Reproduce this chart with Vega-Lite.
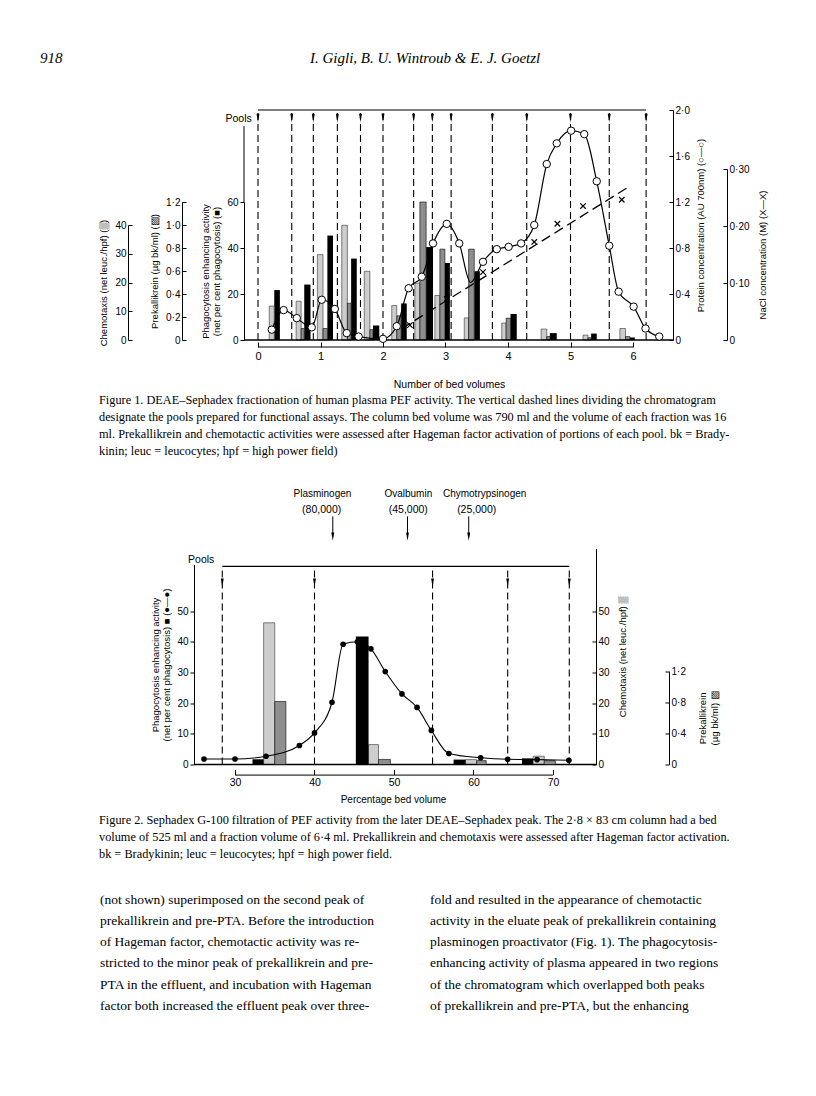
{
  "$schema": "https://vega.github.io/schema/vega-lite/v6.json",
  "background": "white",
  "padding": {"left": 40, "top": 50, "right": 5, "bottom": 5},
  "autosize": {"type": "pad"},
  "title": {
    "text": "918\u00a0\u00a0\u00a0\u00a0\u00a0\u00a0\u00a0\u00a0\u00a0\u00a0\u00a0\u00a0\u00a0\u00a0\u00a0\u00a0\u00a0\u00a0\u00a0\u00a0\u00a0\u00a0\u00a0\u00a0\u00a0\u00a0\u00a0\u00a0\u00a0\u00a0\u00a0\u00a0\u00a0\u00a0\u00a0\u00a0\u00a0\u00a0\u00a0\u00a0\u00a0\u00a0\u00a0\u00a0\u00a0\u00a0\u00a0\u00a0\u00a0\u00a0\u00a0\u00a0\u00a0\u00a0\u00a0\u00a0\u00a0\u00a0\u00a0\u00a0\u00a0\u00a0\u00a0\u00a0\u00a0\u00a0I. Gigli, B. U. Wintroub & E. J. Goetzl",
    "anchor": "start",
    "frame": "group",
    "dx": -194,
    "offset": 39.5,
    "font": "Liberation Serif",
    "fontSize": 15,
    "fontWeight": "normal",
    "fontStyle": "italic",
    "color": "black"
  },
  "datasets": {
    "f1_phago": [
      {"x": 0.26, "xe": 0.35, "v": 21.7}, {"x": 0.74, "xe": 0.84, "v": 24.1}, {"x": 1.11, "xe": 1.2, "v": 45.4},
      {"x": 1.49, "xe": 1.58, "v": 35.4}, {"x": 1.84, "xe": 1.94, "v": 6.3}, {"x": 2.29, "xe": 2.38, "v": 15.9},
      {"x": 2.69, "xe": 2.8, "v": 40.4}, {"x": 2.99, "xe": 3.07, "v": 33.5}, {"x": 3.46, "xe": 3.55, "v": 29.9},
      {"x": 4.04, "xe": 4.14, "v": 11.3}, {"x": 4.67, "xe": 4.78, "v": 3.0}, {"x": 5.33, "xe": 5.42, "v": 2.8},
      {"x": 5.95, "xe": 6.03, "v": 1.1}
    ],
    "f1_chem": [
      {"x": 0.18, "xe": 0.26, "v": 11.8}, {"x": 0.61, "xe": 0.69, "v": 13.5}, {"x": 0.95, "xe": 1.04, "v": 29.7},
      {"x": 1.34, "xe": 1.43, "v": 39.9}, {"x": 1.7, "xe": 1.79, "v": 23.9}, {"x": 2.14, "xe": 2.22, "v": 12.0},
      {"x": 2.51, "xe": 2.59, "v": 19.8}, {"x": 2.83, "xe": 2.91, "v": 15.5}, {"x": 3.3, "xe": 3.37, "v": 7.7},
      {"x": 3.9, "xe": 3.97, "v": 5.9}, {"x": 4.53, "xe": 4.62, "v": 3.8}, {"x": 5.2, "xe": 5.28, "v": 1.7},
      {"x": 5.79, "xe": 5.88, "v": 4.0}
    ],
    "f1_prek": [
      {"x": 0.69, "xe": 0.74, "v": 0.1}, {"x": 1.04, "xe": 1.11, "v": 0.1}, {"x": 1.43, "xe": 1.49, "v": 0.32},
      {"x": 1.79, "xe": 1.84, "v": 0.09}, {"x": 2.22, "xe": 2.29, "v": 0.21}, {"x": 2.59, "xe": 2.69, "v": 1.2},
      {"x": 2.91, "xe": 2.99, "v": 0.79}, {"x": 3.37, "xe": 3.46, "v": 0.79}, {"x": 3.97, "xe": 4.04, "v": 0.19},
      {"x": 4.62, "xe": 4.67, "v": 0.03}, {"x": 5.28, "xe": 5.33, "v": 0.02}, {"x": 5.88, "xe": 5.95, "v": 0.03}
    ],
    "f1_protein": [
      {"x": 0.22, "p": 0.09}, {"x": 0.41, "p": 0.26}, {"x": 0.62, "p": 0.19}, {"x": 0.86, "p": 0.11},
      {"x": 1.02, "p": 0.35}, {"x": 1.23, "p": 0.27}, {"x": 1.42, "p": 0.06}, {"x": 1.61, "p": 0.03},
      {"x": 2.0, "p": 0.01}, {"x": 2.22, "p": 0.12}, {"x": 2.41, "p": 0.45}, {"x": 2.62, "p": 0.55},
      {"x": 2.8, "p": 0.84}, {"x": 3.02, "p": 1.01}, {"x": 3.22, "p": 0.84}, {"x": 3.4, "p": 0.5, "hidden": true},
      {"x": 3.6, "p": 0.68}, {"x": 3.82, "p": 0.79}, {"x": 4.01, "p": 0.81}, {"x": 4.21, "p": 0.84},
      {"x": 4.42, "p": 1.0}, {"x": 4.62, "p": 1.53}, {"x": 4.78, "p": 1.71}, {"x": 5.01, "p": 1.82},
      {"x": 5.22, "p": 1.79}, {"x": 5.42, "p": 1.38}, {"x": 5.62, "p": 0.82}, {"x": 5.77, "p": 0.42},
      {"x": 6.01, "p": 0.29}, {"x": 6.2, "p": 0.1}, {"x": 6.42, "p": 0.03}
    ],
    "f1_nacl": [
      {"x": 2.43, "c": 0.026}, {"x": 3.02, "c": 0.072}, {"x": 3.6, "c": 0.119}, {"x": 4.42, "c": 0.172},
      {"x": 4.79, "c": 0.204}, {"x": 5.2, "c": 0.235}, {"x": 5.82, "c": 0.246}
    ],
    "f1_nacl_line": [{"x": 2.3, "c": 0.02}, {"x": 5.92, "c": 0.268}],
    "f1_pools": [
      {"x": 0}, {"x": 0.54}, {"x": 0.885}, {"x": 1.27}, {"x": 1.64}, {"x": 2.0}, {"x": 2.49},
      {"x": 2.79}, {"x": 3.09}, {"x": 3.75}, {"x": 4.3}, {"x": 5.0}, {"x": 5.62}, {"x": 6.21}
    ],
    "f2_phago": [
      {"x": 32.2, "xe": 33.6, "v": 1.7}, {"x": 45.2, "xe": 46.8, "v": 41.7},
      {"x": 57.5, "xe": 59.0, "v": 1.6}, {"x": 66.1, "xe": 67.5, "v": 2.0}
    ],
    "f2_chem": [
      {"x": 33.6, "xe": 35.0, "v": 46.2}, {"x": 46.8, "xe": 48.05, "v": 6.5},
      {"x": 59.0, "xe": 60.4, "v": 1.6}, {"x": 67.5, "xe": 68.9, "v": 2.7}
    ],
    "f2_prek": [
      {"x": 35.0, "xe": 36.4, "v": 0.81}, {"x": 48.05, "xe": 49.55, "v": 0.065},
      {"x": 60.4, "xe": 61.6, "v": 0.05}, {"x": 68.9, "xe": 70.3, "v": 0.05}
    ],
    "f2_curve": [
      {"x": 26.1, "v": 1.8}, {"x": 30.0, "v": 1.8}, {"x": 33.9, "v": 2.7}, {"x": 38.1, "v": 6.2},
      {"x": 40.0, "v": 10.3}, {"x": 42.2, "v": 20.3}, {"x": 43.6, "v": 39.2}, {"x": 45.4, "v": 40.0},
      {"x": 47.1, "v": 37.7}, {"x": 48.9, "v": 30.3}, {"x": 51.0, "v": 23.0}, {"x": 52.9, "v": 18.6},
      {"x": 54.7, "v": 11.1}, {"x": 56.9, "v": 3.6}, {"x": 60.9, "v": 2.2}, {"x": 64.3, "v": 1.7},
      {"x": 68.0, "v": 1.6}, {"x": 72.0, "v": 1.4}
    ],
    "f2_pools": [{"x": 28.4}, {"x": 40.0}, {"x": 54.85}, {"x": 64.3}, {"x": 72.05}],
    "f2_names": [{"x": 41.0, "t": "Plasminogen"}, {"x": 51.8, "t": "Ovalbumin"}, {"x": 61.4, "t": "Chymotrypsinogen"}],
    "f2_mw": [{"x": 40.9, "t": "(80,000)"}, {"x": 51.8, "t": "(45,000)"}, {"x": 60.4, "t": "(25,000)"}],
    "f2_arrows": [{"x": 42.3}, {"x": 51.7}, {"x": 59.4}],
    "body": [
      {"col": 0, "line": 0, "text": "(not shown) superimposed on the second peak of"},
      {"col": 0, "line": 1, "text": "prekallikrein and pre-PTA. Before the introduction"},
      {"col": 0, "line": 2, "text": "of Hageman factor, chemotactic activity was re-"},
      {"col": 0, "line": 3, "text": "stricted to the minor peak of prekallikrein and pre-"},
      {"col": 0, "line": 4, "text": "PTA in the effluent, and incubation with Hageman"},
      {"col": 0, "line": 5, "text": "factor both increased the effluent peak over three-"},
      {"col": 1, "line": 0, "text": "fold and resulted in the appearance of chemotactic"},
      {"col": 1, "line": 1, "text": "activity in the eluate peak of prekallikrein containing"},
      {"col": 1, "line": 2, "text": "plasminogen proactivator (Fig. 1). The phagocytosis-"},
      {"col": 1, "line": 3, "text": "enhancing activity of plasma appeared in two regions"},
      {"col": 1, "line": 4, "text": "of the chromatogram which overlapped both peaks"},
      {"col": 1, "line": 5, "text": "of prekallikrein and pre-PTA, but the enhancing"}
    ]
  },
  "align": "none",
  "bounds": "full",
  "spacing": 31.5,
  "vconcat": [
    {
      "width": 439,
      "height": 230,
      "title": {
        "text": [
          "Figure 1. DEAE–Sephadex fractionation of human plasma PEF activity. The vertical dashed lines dividing the chromatogram",
          "designate the pools prepared for functional assays. The column bed volume was 790 ml and the volume of each fraction was 16",
          "ml. Prekallikrein and chemotactic activities were assessed after Hageman factor activation of portions of each pool. bk = Brady-",
          "kinin; leuc = leucocytes; hpf = high power field)"
        ],
        "orient": "bottom", "anchor": "start", "frame": "group", "dx": -135, "offset": 4,
        "font": "Liberation Serif", "fontSize": 12.3, "fontWeight": "normal", "lineHeight": 17, "color": "black"
      },
      "encoding": {
        "x": {
          "field": "x", "type": "quantitative",
          "scale": {"domain": [-0.384, 6.64], "nice": false, "zero": false},
          "axis": {"orient": "bottom", "offset": 2, "values": [0, 1, 2, 3, 4, 5, 6], "format": "d", "domain": false,
                   "tickSize": 5, "labelPadding": 3, "labelFontSize": 11, "title": "Number of bed volumes",
                   "titlePadding": 18, "titleFontSize": 10.5, "titleX": 215}
        }
      },
      "layer": [
        {
          "layer": [
            {"data": {"name": "f1_phago"}, "mark": {"type": "bar", "fill": "black"},
             "encoding": {"x2": {"field": "xe"}, "y2": {"datum": 0},
               "y": {"field": "v", "type": "quantitative", "stack": null,
                     "scale": {"domain": [0, 60], "range": [230, 92], "nice": false, "zero": false},
                     "axis": {"orient": "left", "offset": -10, "values": [0, 10, 20, 30, 40, 50, 60], "format": "d",
                              "title": ["Phagocytosis enhancing activity", "(net per cent phagocytosis) (■)"], "titlePadding": 5}}}},
            {"data": {"values": [{"x": -0.224}]}, "mark": {"type": "rule", "color": "black"},
             "encoding": {"y": {"datum": 60}, "y2": {"datum": 93}}}
          ]
        },
        {
          "layer": [
            {"data": {"name": "f1_chem"}, "mark": {"type": "bar", "fill": "#cdcdcd", "stroke": "#333333", "strokeWidth": 0.6},
             "encoding": {"x2": {"field": "xe"}, "y2": {"datum": 0},
               "y": {"field": "v", "type": "quantitative", "stack": null,
                     "scale": {"domain": [0, 40], "range": [230, 115], "nice": false, "zero": false},
                     "axis": {"orient": "left", "offset": 106, "values": [0, 10, 20, 30, 40], "format": "d",
                              "tickSize": -4, "labelPadding": 6,
                              "title": "Chemotaxis (net leuc./hpf) (▒)", "titlePadding": 6}}}}
          ]
        },
        {
          "layer": [
            {"data": {"name": "f1_prek"}, "mark": {"type": "bar", "fill": "#8e8e8e", "stroke": "black", "strokeWidth": 0.6},
             "encoding": {"x2": {"field": "xe"}, "y2": {"datum": 0},
               "y": {"field": "v", "type": "quantitative", "stack": null,
                     "scale": {"domain": [0, 1.2], "range": [230, 92], "nice": false, "zero": false},
                     "axis": {"orient": "left", "offset": 52, "values": [0, 0.2, 0.4, 0.6, 0.8, 1, 1.2],
                              "labelExpr": "datum.value == 0 ? '0' : replace(format(datum.value, '.1f'), '.', '·')",
                              "tickSize": -4, "labelPadding": 6,
                              "title": "Prekallikrein (µg bk/ml) (▨)", "titlePadding": 6}}}}
          ]
        },
        {
          "layer": [
            {"data": {"name": "f1_protein"}, "mark": {"type": "line", "interpolate": "monotone", "color": "black", "strokeWidth": 1.2},
             "encoding": {"y": {"field": "p", "type": "quantitative",
                     "scale": {"domain": [0, 2], "range": [230, 0], "nice": false, "zero": false},
                     "axis": {"orient": "right", "offset": 0, "values": [0, 0.2, 0.4, 0.6, 0.8, 1, 1.2, 1.4, 1.6, 1.8, 2],
                              "labelExpr": "datum.value == 0 ? '0' : (round(datum.value * 10) % 4 == 0 ? replace(format(datum.value, '.1f'), '.', '·') : '')",
                              "tickSize": -4, "labelPadding": 6,
                              "title": "Protein concentration (AU 700nm) (○—○)", "titleAngle": 270, "titleBaseline": "top", "titlePadding": 6}}}},
            {"data": {"name": "f1_pools"}, "mark": {"type": "rule", "strokeDash": [7, 4], "strokeWidth": 1.1, "color": "black"},
             "encoding": {"y": {"datum": 0}, "y2": {"datum": 2.0}}},
            {"data": {"values": [{"x": 0, "xe": 6.21}]}, "mark": {"type": "rule", "color": "black", "strokeWidth": 1.1},
             "encoding": {"x2": {"field": "xe"}, "y": {"datum": 2.0}}},
            {"data": {"name": "f1_pools"}, "mark": {"type": "point", "shape": "M-0.35,-1L0.35,-1L0,1Z", "filled": true, "color": "black", "size": 70, "opacity": 1},
             "encoding": {"y": {"datum": 1.93}}},
            {"data": {"values": [{"x": -0.1, "t": "Pools"}]}, "mark": {"type": "text", "align": "right", "baseline": "middle", "fontSize": 10.5},
             "encoding": {"y": {"datum": 1.92}, "text": {"field": "t"}}},
            {"data": {"values": [{"x": -0.224, "xe": 6.64}]}, "mark": {"type": "rule", "color": "black", "strokeWidth": 1.6},
             "encoding": {"x2": {"field": "xe"}, "y": {"datum": 0}}},
            {"data": {"values": [{"x": 0, "xe": 6}]}, "mark": {"type": "rule", "color": "black", "strokeWidth": 1},
             "encoding": {"x2": {"field": "xe"}, "y": {"datum": -0.061}}},
            {"data": {"name": "f1_protein"}, "transform": [{"filter": "datum.hidden != true"}],
             "mark": {"type": "point", "shape": "circle", "filled": true, "fill": "white", "stroke": "black", "strokeWidth": 1, "size": 55, "opacity": 1},
             "encoding": {"y": {"field": "p", "type": "quantitative"}}}
          ]
        },
        {
          "layer": [
            {"data": {"name": "f1_nacl_line"}, "mark": {"type": "line", "strokeDash": [10, 5], "color": "black", "strokeWidth": 1.3},
             "encoding": {"y": {"field": "c", "type": "quantitative",
                     "scale": {"domain": [0, 0.3], "range": [230, 59], "nice": false, "zero": false},
                     "axis": {"orient": "right", "offset": 54, "values": [0, 0.1, 0.2, 0.3],
                              "labelExpr": "datum.value == 0 ? '0' : replace(format(datum.value, '.2f'), '.', '·')",
                              "tickSize": -4, "labelPadding": 6,
                              "title": "NaCl concentration (M) (X—X)", "titleAngle": 270, "titleBaseline": "top", "titlePadding": 8}}}},
            {"data": {"name": "f1_nacl"}, "mark": {"type": "point", "shape": "M-1,-1L1,1M1,-1L-1,1", "filled": false, "stroke": "black", "strokeWidth": 1.2, "size": 30, "opacity": 1},
             "encoding": {"y": {"field": "c", "type": "quantitative"}}}
          ]
        }
      ],
      "resolve": {"scale": {"y": "independent"}, "axis": {"y": "independent"}}
    },
    {
      "width": 362,
      "height": 216,
      "title": {
        "text": [
          "Figure 2. Sephadex G-100 filtration of PEF activity from the later DEAE–Sephadex peak. The 2·8 × 83 cm column had a bed",
          "volume of 525 ml and a fraction volume of 6·4 ml. Prekallikrein and chemotaxis were assessed after Hageman factor activation.",
          "bk = Bradykinin; leuc = leucocytes; hpf = high power field."
        ],
        "orient": "bottom", "anchor": "start", "frame": "group", "dx": -135, "offset": 10,
        "font": "Liberation Serif", "fontSize": 12.3, "fontWeight": "normal", "lineHeight": 17, "color": "black"
      },
      "encoding": {
        "x": {
          "field": "x", "type": "quantitative",
          "scale": {"domain": [29.874, 75.41], "nice": false, "zero": false},
          "axis": {"orient": "bottom", "offset": 5, "values": [30, 40, 50, 60, 70], "format": "d", "domain": false,
                   "tickSize": 5, "labelPadding": 3, "labelFontSize": 10.5, "title": "Percentage bed volume",
                   "titlePadding": 6, "titleFontSize": 10, "titleX": 159}
        }
      },
      "layer": [
        {
          "layer": [
            {"data": {"name": "f2_chem"}, "mark": {"type": "bar", "fill": "#cdcdcd", "stroke": "#333333", "strokeWidth": 0.6},
             "encoding": {"x2": {"field": "xe"}, "y2": {"datum": 0},
               "y": {"field": "v", "type": "quantitative", "stack": null,
                     "scale": {"domain": [0, 70.43], "range": [216, 0], "nice": false, "zero": false},
                     "axis": {"orient": "right", "offset": 0, "values": [0, 10, 20, 30, 40, 50], "format": "d",
                              "tickSize": -4, "labelPadding": 6,
                              "title": "Chemotaxis (net leuc./hpf) ▒", "titleAngle": 270, "titleBaseline": "top", "titlePadding": 8}}}},
            {"data": {"name": "f2_pools"}, "mark": {"type": "rule", "strokeDash": [7, 4], "strokeWidth": 1.1, "color": "black"},
             "encoding": {"y": {"datum": 0}, "y2": {"datum": 64.6}}},
            {"data": {"values": [{"x": 28.4, "xe": 72.05}]}, "mark": {"type": "rule", "color": "black", "strokeWidth": 1.1},
             "encoding": {"x2": {"field": "xe"}, "y": {"datum": 64.6}}},
            {"data": {"name": "f2_pools"}, "mark": {"type": "point", "shape": "M-0.35,-1L0.35,-1L0,1Z", "filled": true, "color": "black", "size": 70, "opacity": 1},
             "encoding": {"y": {"datum": 59.3}}},
            {"data": {"values": [{"x": 27.4, "t": "Pools"}]}, "mark": {"type": "text", "align": "right", "baseline": "middle", "fontSize": 10.5},
             "encoding": {"y": {"datum": 66.8}, "text": {"field": "t"}}},
            {"data": {"values": [{"x": 24.88, "xe": 75.41}]}, "mark": {"type": "rule", "color": "black", "strokeWidth": 1.6},
             "encoding": {"x2": {"field": "xe"}, "y": {"datum": 0}}},
            {"data": {"values": [{"x": 30, "xe": 70}]}, "mark": {"type": "rule", "color": "black", "strokeWidth": 1},
             "encoding": {"x2": {"field": "xe"}, "y": {"datum": -3.45}}},
            {"data": {"name": "f2_names"}, "mark": {"type": "text", "align": "center", "baseline": "middle", "fontSize": 10},
             "encoding": {"y": {"datum": 88.1}, "text": {"field": "t"}}},
            {"data": {"name": "f2_mw"}, "mark": {"type": "text", "align": "center", "baseline": "middle", "fontSize": 10.5},
             "encoding": {"y": {"datum": 82.9}, "text": {"field": "t"}}},
            {"data": {"name": "f2_arrows"}, "mark": {"type": "rule", "color": "black", "strokeWidth": 1},
             "encoding": {"y": {"datum": 80.9}, "y2": {"datum": 74.5}}},
            {"data": {"name": "f2_arrows"}, "mark": {"type": "point", "shape": "M-0.35,-1L0.35,-1L0,1Z", "filled": true, "color": "black", "size": 70, "opacity": 1},
             "encoding": {"y": {"datum": 74.3}}}
          ]
        },
        {
          "layer": [
            {"data": {"name": "f2_prek"}, "mark": {"type": "bar", "fill": "#8e8e8e", "stroke": "black", "strokeWidth": 0.6},
             "encoding": {"x2": {"field": "xe"}, "y2": {"datum": 0},
               "y": {"field": "v", "type": "quantitative", "stack": null,
                     "scale": {"domain": [0, 1.2], "range": [216, 122.7], "nice": false, "zero": false},
                     "axis": {"orient": "right", "offset": 73, "values": [0, 0.4, 0.8, 1.2],
                              "labelExpr": "datum.value == 0 ? '0' : replace(format(datum.value, '.1f'), '.', '·')",
                              "tickSize": -4, "labelPadding": 6,
                              "title": ["Prekallikrein", "(µg bk/ml) ▨"], "titleAngle": 270, "titleBaseline": "top", "titlePadding": 1}}}}
          ]
        },
        {
          "layer": [
            {"data": {"name": "f2_phago"}, "mark": {"type": "bar", "fill": "black"},
             "encoding": {"x2": {"field": "xe"}, "y2": {"datum": 0},
               "y": {"field": "v", "type": "quantitative", "stack": null,
                     "scale": {"domain": [0, 65.2], "range": [216, 16], "nice": false, "zero": false},
                     "axis": {"orient": "left", "offset": 40, "values": [0, 10, 20, 30, 40, 50], "format": "d",
                              "title": ["Phagocytosis enhancing activity", "(net per cent phagocytosis) ■ (●—●)"], "titlePadding": 5}}}},
            {"data": {"name": "f2_curve"}, "mark": {"type": "line", "interpolate": "monotone", "color": "black", "strokeWidth": 1.1},
             "encoding": {"y": {"field": "v", "type": "quantitative"}}},
            {"data": {"name": "f2_curve"}, "mark": {"type": "point", "shape": "circle", "filled": true, "color": "black", "size": 32, "opacity": 1},
             "encoding": {"y": {"field": "v", "type": "quantitative"}}}
          ]
        }
      ],
      "resolve": {"scale": {"y": "independent"}, "axis": {"y": "independent"}}
    },
    {
      "width": 330,
      "height": 127,
      "data": {"name": "body"},
      "mark": {"type": "text", "align": "left", "baseline": "middle", "font": "Liberation Serif", "fontSize": 13.5, "dx": -134},
      "encoding": {
        "x": {"field": "col", "type": "quantitative", "scale": {"domain": [0, 1], "nice": false, "zero": false}, "axis": null},
        "y": {"field": "line", "type": "quantitative", "scale": {"domain": [-0.33, 5.67], "reverse": true, "nice": false, "zero": false}, "axis": null},
        "text": {"field": "text"}
      }
    }
  ],
  "config": {
    "view": {"stroke": null},
    "axis": {
      "grid": false, "labelFont": "Liberation Sans", "titleFont": "Liberation Sans", "labelFontSize": 10,
      "titleFontSize": 9.5, "titleFontWeight": "normal", "labelColor": "black", "titleColor": "black",
      "domainColor": "black", "tickColor": "black", "tickSize": 4, "labelPadding": 2, "labelOverlap": false,
      "labelFlush": false
    },
    "text": {"font": "Liberation Sans", "fontSize": 10, "color": "black"}
  }
}
